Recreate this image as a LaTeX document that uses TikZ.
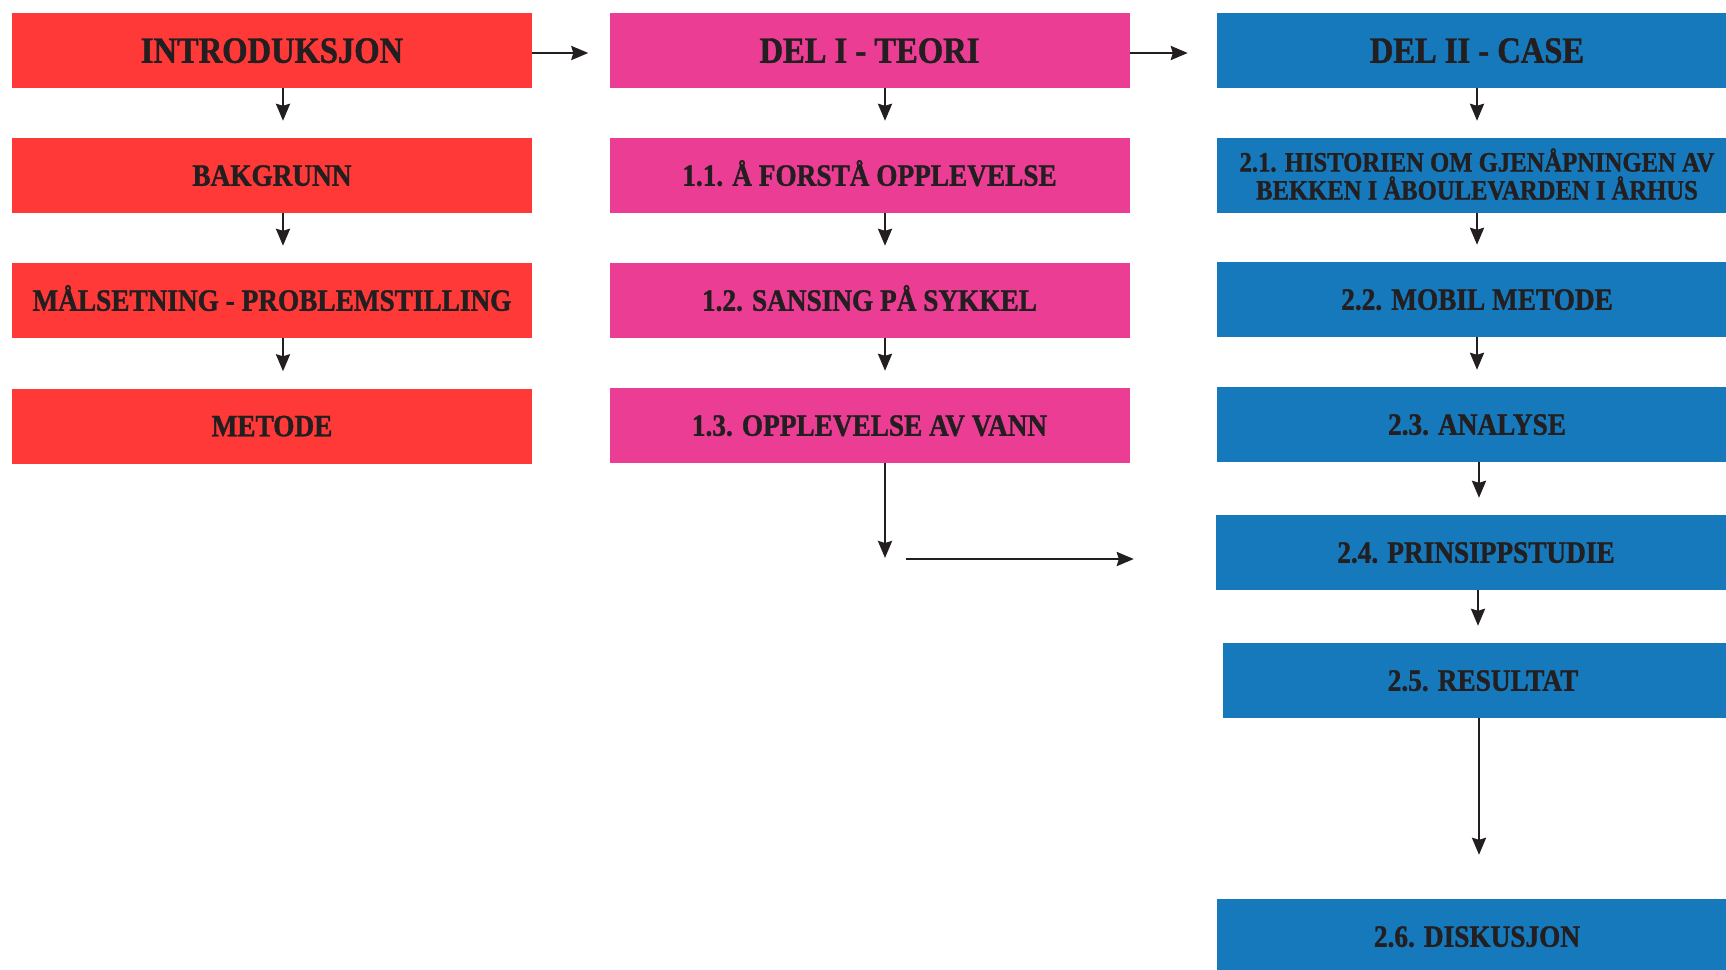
\documentclass[tikz,border=0pt]{standalone}
\usepackage{fontspec}
\setmainfont{Liberation Serif}[FakeStretch=0.88,BoldFeatures={FakeBold=1.2}]
\usetikzlibrary{arrows.meta}
\definecolor{introred}{RGB}{255,56,56}
\definecolor{teoripink}{RGB}{236,61,148}
\definecolor{caseblue}{RGB}{22,121,187}
\definecolor{ink}{RGB}{35,31,32}
\def\arr{\draw[-{Stealth[length=17pt,width=14pt,inset=2pt]},line width=2.5pt,ink,shorten >=17pt]}

\begin{document}
\begin{tikzpicture}[x=1pt,y=-1pt,
    box/.style={rectangle,minimum width=520pt,minimum height=75pt,inner sep=0pt,
      text=ink,align=center,text height=20.5pt,text depth=0pt,
      font=\bfseries\fontsize{31}{28}\selectfont},
    head/.style={text height=24.5pt,font=\bfseries\fontsize{37}{40}\selectfont},
    introbox/.style={box,fill=introred},
    teoribox/.style={box,fill=teoripink},
    casebox/.style={box,fill=caseblue}]
  \useasboundingbox (0,0) rectangle (1726,969);

  \node[introbox,head] (intro) at (272,50.5) {INTRODUKSJON};
  \node[introbox] (bak)  at (272,175.5) {BAKGRUNN};
  \node[introbox] (maal) at (272,300.5) {MÅLSETNING - PROBLEMSTILLING};
  \node[introbox] (met)  at (272,426)   {METODE};

  \node[teoribox,head] (teori) at (869.5,50.5) {DEL I - TEORI};
  \node[teoribox] (t1) at (869.5,175.5) {1.1. Å FORSTÅ OPPLEVELSE};
  \node[teoribox] (t2) at (869.5,300.5) {1.2. SANSING PÅ SYKKEL};
  \node[teoribox] (t3) at (869.5,425.5) {1.3. OPPLEVELSE AV VANN};

  \node[casebox,head] (case) at (1477,50.5) {DEL II - CASE};
  \node[casebox,font=\bfseries\fontsize{28}{28}\selectfont,text height=48pt] (c1) at (1477,175.5)
    {2.1. HISTORIEN OM GJENÅPNINGEN AV\\BEKKEN I ÅBOULEVARDEN I ÅRHUS};
  \node[casebox] (c2) at (1477,299.5) {2.2. MOBIL METODE};
  \node[casebox] (c3) at (1477,424.5) {2.3. ANALYSE};
  \node[casebox] (c4) at (1476,552.5) {2.4. PRINSIPPSTUDIE};
  \node[casebox] (c5) at (1483,680.5) {2.5. RESULTAT};
  \node[casebox] (c6) at (1477,936.5) {2.6. DISKUSJON};

  \coordinate (t3end) at (885,558);
  \coordinate (hstart) at (906,559);

  \arr ([xshift=11pt]intro.south) -- ([xshift=11pt]bak.north);
  \arr ([xshift=11pt]bak.south) -- ([xshift=11pt]maal.north);
  \arr ([xshift=11pt]maal.south) -- ([xshift=11pt]met.north);

  \arr ([xshift=15.5pt]teori.south) -- ([xshift=15.5pt]t1.north);
  \arr ([xshift=15.5pt]t1.south) -- ([xshift=15.5pt]t2.north);
  \arr ([xshift=15.5pt]t2.south) -- ([xshift=15.5pt]t3.north);
  \arr[shorten >=0pt] ([xshift=15.5pt]t3.south) -- (t3end);
  \arr[shorten >=82pt] (hstart) -- (hstart -| c4.west);

  \arr (case.south) -- (c1.north);
  \arr (c1.south) -- (c2.north);
  \arr (c2.south) -- (c3.north);
  \arr ([xshift=2pt]c3.south) -- ([xshift=2pt]c3.south |- c4.north);
  \arr ([xshift=2pt]c4.south) -- ([xshift=2pt]c4.south |- c5.north);
  \arr[shorten >=44pt] ([xshift=-4pt]c5.south) -- ([xshift=-4pt]c5.south |- c6.north);

  \arr[shorten >=21pt] ([yshift=-2.5pt]intro.east) -- ([yshift=-2.5pt]teori.west);
  \arr[shorten >=29pt] ([yshift=-2.5pt]teori.east) -- ([yshift=-2.5pt]case.west);
\end{tikzpicture}
\end{document}
